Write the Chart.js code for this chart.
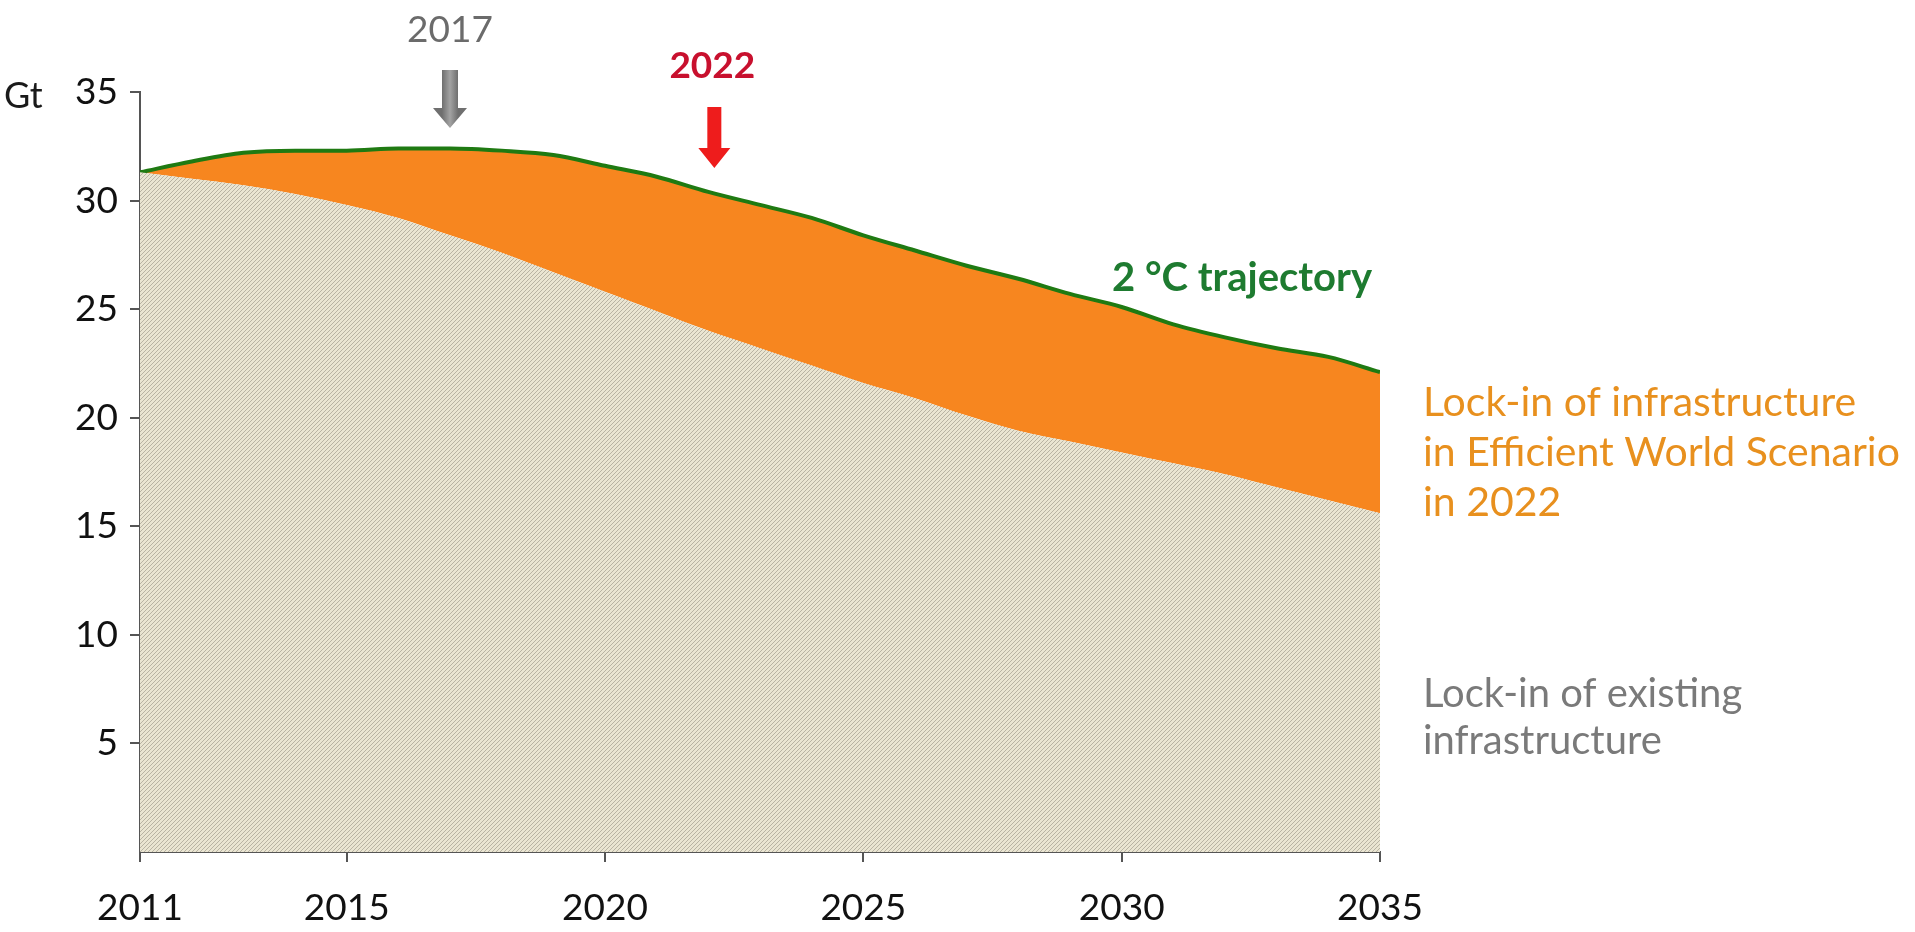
<!DOCTYPE html>
<html>
<head>
<meta charset="utf-8">
<script src="https://cdn.jsdelivr.net/npm/chart.js@4.4.1/dist/chart.umd.min.js"></script>
<style>
    html, body { margin: 0; padding: 0; background: #fff; }
    #wrap { width: 1915px; height: 932px; }
</style>
</head>
<body>
<div id="wrap"><canvas id="lockInChart"></canvas></div>
<script>
// CO2 emissions, Gt per year
const years = [2011, 2012, 2013, 2014, 2015, 2016, 2017, 2018, 2019, 2020, 2021, 2022,
               2023, 2024, 2025, 2026, 2027, 2028, 2029, 2030, 2031, 2032, 2033, 2034, 2035];
const existingLockIn = [31.3, 31.0, 30.7, 30.3, 29.8, 29.2, 28.4, 27.6, 26.7, 25.8, 24.9, 24.0,
                        23.2, 22.4, 21.6, 20.9, 20.1, 19.4, 18.9, 18.4, 17.9, 17.4, 16.8, 16.2, 15.6];
const twoDegree = [31.3, 31.8, 32.2, 32.3, 32.3, 32.4, 32.4, 32.3, 32.1, 31.6, 31.1, 30.4,
                   29.8, 29.2, 28.4, 27.7, 27.0, 26.4, 25.7, 25.1, 24.3, 23.7, 23.2, 22.8, 22.1];
const xTickYears = [2011, 2015, 2020, 2025, 2030, 2035];
const yMax = 35;
const markerYears = { grey: 2017, red: 2022 };

const FONT = 'Lato, "Open Sans", sans-serif';

// fine diagonal hatch for the existing-infrastructure area
function makeHatch() {
    const c = document.createElement('canvas');
    c.width = 4;
    c.height = 4;
    const g = c.getContext('2d');
    g.fillStyle = '#EAE5D2';
    g.fillRect(0, 0, 4, 4);
    g.fillStyle = '#B8B3A3';
    for (let i = 0; i < 4; i++) {
        g.fillRect(i, 3 - i, 1, 1);
    }
    return g.createPattern(c, 'repeat');
}

function drawArrow(ctx, x, top, tip, shaftW, headW, headH, color) {
    ctx.save();
    ctx.fillStyle = color;
    ctx.beginPath();
    ctx.moveTo(x - shaftW / 2, top);
    ctx.lineTo(x + shaftW / 2, top);
    ctx.lineTo(x + shaftW / 2, tip - headH);
    ctx.lineTo(x + headW / 2, tip - headH);
    ctx.lineTo(x, tip);
    ctx.lineTo(x - headW / 2, tip - headH);
    ctx.lineTo(x - shaftW / 2, tip - headH);
    ctx.closePath();
    ctx.fill();
    ctx.restore();
}

// labels, year markers and area captions
const annotations = {
    id: 'annotations',
    afterDraw(chart) {
        const ctx = chart.ctx;
        const xs = chart.scales.x;
        ctx.save();
        ctx.textBaseline = 'middle';

        ctx.fillStyle = '#1a1a1a';
        ctx.font = '36px ' + FONT;
        ctx.textAlign = 'left';
        ctx.fillText('Gt', 4, 96);

        // 2017 marker
        const xg = xs.getPixelForValue(markerYears.grey);
        const grad = ctx.createLinearGradient(xg - 8, 0, xg + 8, 0);
        grad.addColorStop(0, '#6f6f6f');
        grad.addColorStop(0.5, '#a3a3a3');
        grad.addColorStop(1, '#6f6f6f');
        drawArrow(ctx, xg, 70, 128, 16, 34, 20, grad);
        ctx.textAlign = 'center';
        ctx.fillStyle = '#6b6b6b';
        ctx.font = '37px ' + FONT;
        ctx.fillText(String(markerYears.grey), xg, 30);

        // 2022 marker
        const xr = xs.getPixelForValue(markerYears.red) + 6;
        drawArrow(ctx, xr, 107, 168, 14, 32, 20, '#EE1C1C');
        ctx.fillStyle = '#C8102E';
        ctx.font = 'bold 37px ' + FONT;
        ctx.fillText(String(markerYears.red), xr - 2, 66);

        ctx.textAlign = 'left';
        ctx.fillStyle = '#1E7B30';
        ctx.font = 'bold 40px ' + FONT;
        ctx.fillText('2 °C trajectory', 1112, 278);

        ctx.fillStyle = '#E8901E';
        ctx.font = '41px ' + FONT;
        ctx.fillText('Lock-in of infrastructure', 1423, 403);
        ctx.fillText('in Efficient World Scenario', 1423, 453);
        ctx.fillText('in 2022', 1423, 503);

        ctx.fillStyle = '#7A7A7A';
        ctx.font = '40px ' + FONT;
        ctx.fillText('Lock-in of existing', 1423, 694);
        ctx.fillText('infrastructure', 1423, 741);
        ctx.restore();
    }
};

const ctx = document.getElementById('lockInChart').getContext('2d');
new Chart(ctx, {
    type: 'line',
    data: {
        datasets: [
            {
                label: 'Lock-in of existing infrastructure',
                data: years.map((y, i) => ({ x: y, y: existingLockIn[i] })),
                borderWidth: 0,
                pointRadius: 0,
                backgroundColor: makeHatch(),
                fill: 'origin',
                cubicInterpolationMode: 'monotone'
            },
            {
                label: '2 °C trajectory',
                data: years.map((y, i) => ({ x: y, y: twoDegree[i] })),
                borderColor: '#1F7A12',
                borderWidth: 4,
                pointRadius: 0,
                backgroundColor: '#F7861F',
                fill: '-1',
                cubicInterpolationMode: 'monotone'
            }
        ]
    },
    options: {
        responsive: true,
        maintainAspectRatio: false,
        animation: false,
        layout: { padding: { top: 92, right: 535, left: 0, bottom: 0 } },
        plugins: {
            legend: { display: false },
            tooltip: { enabled: false }
        },
        scales: {
            x: {
                type: 'linear',
                min: years[0],
                max: years[years.length - 1],
                afterBuildTicks: (scale) => {
                    scale.ticks = xTickYears.map(v => ({ value: v }));
                },
                afterFit: (scale) => { scale.height = 80; },
                grid: {
                    display: true,
                    drawOnChartArea: false,
                    tickLength: 10,
                    color: '#555',
                    lineWidth: 2
                },
                border: { display: true, color: '#555', width: 2 },
                ticks: {
                    padding: 24,
                    color: '#111',
                    font: { family: FONT, size: 37 },
                    maxRotation: 0,
                    callback: (v) => String(v)
                }
            },
            y: {
                min: 0,
                max: yMax,
                afterFit: (scale) => { scale.width = 140; },
                grid: {
                    display: true,
                    drawOnChartArea: false,
                    tickLength: 10,
                    color: (c) => (c.tick && c.tick.value === 0 ? 'rgba(0,0,0,0)' : '#555'),
                    lineWidth: 2
                },
                border: { display: true, color: '#555', width: 2 },
                ticks: {
                    stepSize: 5,
                    padding: 12,
                    color: '#111',
                    font: { family: FONT, size: 37 },
                    callback: (v) => (v === 0 ? '' : String(v))
                }
            }
        }
    },
    plugins: [annotations]
});
</script>
</body>
</html>
